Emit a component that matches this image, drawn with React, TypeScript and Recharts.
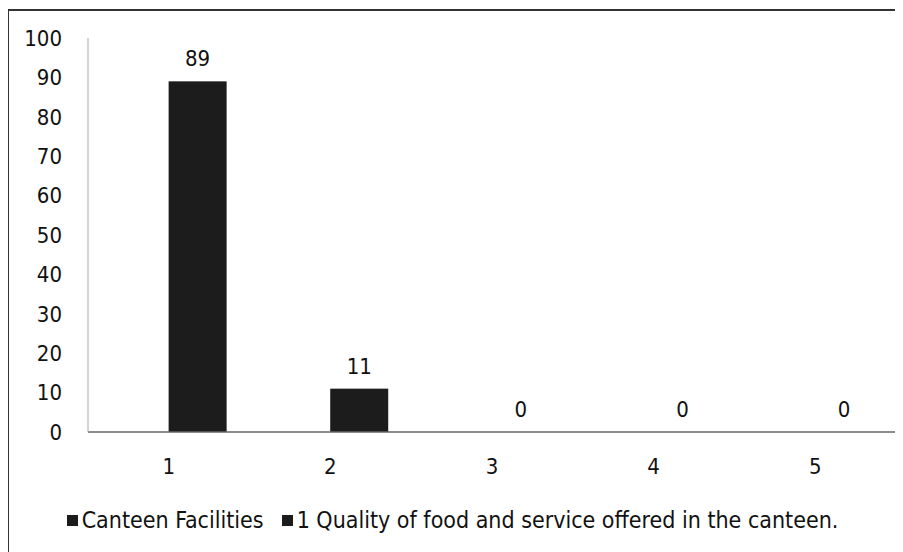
import { BarChart, Bar, XAxis, YAxis, LabelList, Legend } from 'recharts';

const categories = ['1', '2', '3', '4', '5'];
// first series has no values in the source chart, only a legend entry
const canteenFacilities: (number | null)[] = [null, null, null, null, null];
const qualityOfFood = [89, 11, 0, 0, 0];
const yTicks = [0, 10, 20, 30, 40, 50, 60, 70, 80, 90, 100];
const seriesNames = ['Canteen Facilities', '1 Quality of food and service offered in the canteen.'];

const chartData = categories.map((c, i) => ({
  name: c,
  facilities: canteenFacilities[i],
  quality: qualityOfFood[i],
}));

const font = '"Liberation Sans Narrow", "DejaVu Sans Condensed", "Liberation Sans", sans-serif';

function CustomLegend() {
  return (
    <div style={{ height: 26, display: 'flex', justifyContent: 'center', alignItems: 'center', gap: 18, fontFamily: font, fontSize: 23, color: '#111' }}>
      {seriesNames.map(item => (
        <span key={item} style={{ display: 'flex', alignItems: 'center' }}>
          <span style={{ display: 'inline-block', width: 11, height: 11, background: '#1c1c1c', marginRight: 4 }}></span>
          {item}
        </span>
      ))}
    </div>
  );
}

function ValueLabel(props: any) {
  const { x, y, width, height, value } = props;
  if (value === null || value === undefined) return null;
  // zero bars get a 1px min height so the label is kept; put it back on the axis
  const top = value === 0 ? y + height : y;
  return (
    <text x={x + width / 2} y={top - 15} textAnchor="middle" fill="#111" fontSize={22} fontFamily={font}>
      {value}
    </text>
  );
}

function BarShape(props: any) {
  const { x, y, width, height, value, fill } = props;
  const v = Array.isArray(value) ? value[1] - value[0] : value;
  if (!v) return null;
  return <rect x={x} y={y} width={width} height={height} fill={fill} />;
}

export default function App() {
  return (
    <div
      style={{
        width: 895,
        height: 544,
        borderLeft: '2px solid #333',
        borderTop: '2px solid #333',
        boxSizing: 'border-box',
        background: '#fff',
        marginTop: 1,
        marginLeft: -1,
      }}
    >
      <BarChart
        width={893}
        height={542}
        data={chartData}
        margin={{ top: 27, right: 6, bottom: 0, left: 0 }}
        barCategoryGap="14%"
        barGap={0}
      >
        <XAxis
          dataKey="name"
          axisLine={{ stroke: '#666', strokeWidth: 1.5 }}
          tickLine={false}
          tickSize={0}
          tickMargin={26}
          height={95}
          tick={{ fill: '#111', fontSize: 22, fontFamily: font }}
        />
        <YAxis
          domain={[0, 100]}
          ticks={yTicks}
          interval={0}
          width={79}
          axisLine={{ stroke: '#aaa' }}
          tickLine={false}
          tickSize={0}
          tickMargin={26}
          tick={{ fill: '#111', fontSize: 22, fontFamily: font }}
        />
        <Legend verticalAlign="bottom" wrapperStyle={{ bottom: 20 }} content={() => <CustomLegend />} />
        <Bar dataKey="facilities" name={seriesNames[0]} fill="#1c1c1c" isAnimationActive={false} />
        <Bar
          dataKey="quality"
          name={seriesNames[1]}
          fill="#1c1c1c"
          minPointSize={1}
          shape={BarShape}
          isAnimationActive={false}
        >
          <LabelList dataKey="quality" content={ValueLabel} />
        </Bar>
      </BarChart>
    </div>
  );
}
